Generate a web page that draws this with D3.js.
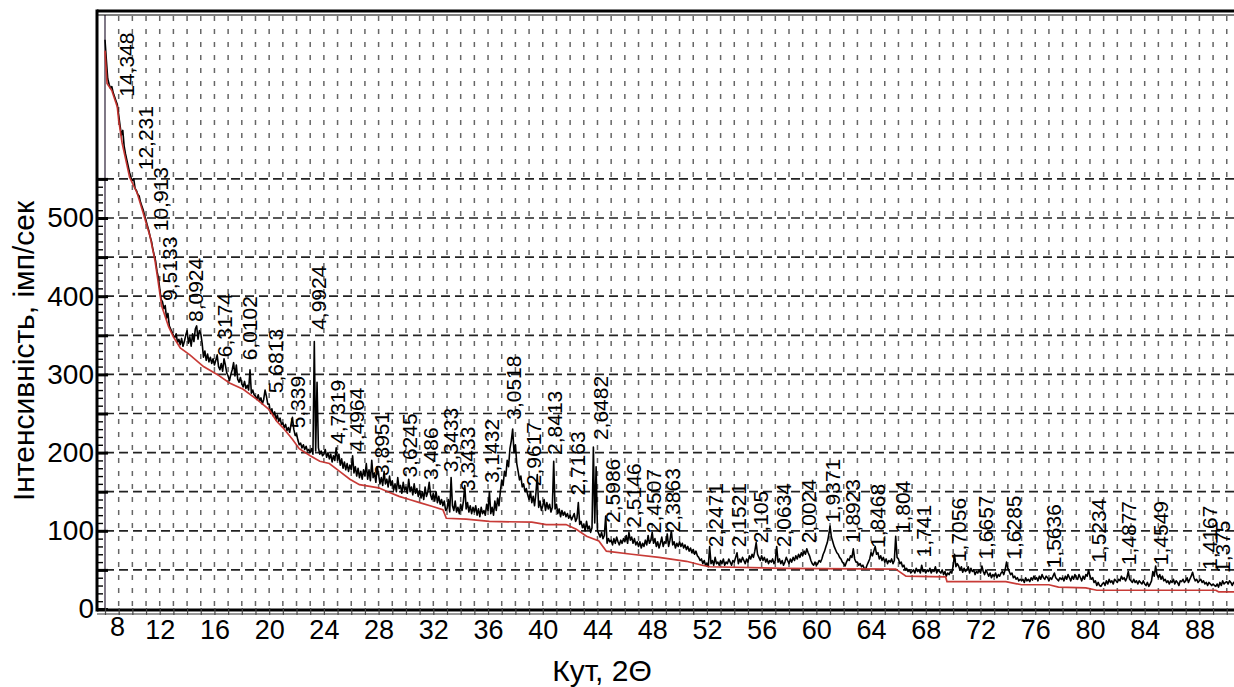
<!DOCTYPE html>
<html>
<head>
<meta charset="utf-8">
<script src="https://cdn.jsdelivr.net/npm/d3@7"></script>
<style>
  html, body { margin: 0; padding: 0; background: #fff; overflow: hidden; }
  text { font-family: "Liberation Sans", Arial, sans-serif; fill: #000; }
</style>
</head>
<body>
<svg id="chart" width="1234" height="687"></svg>
<script>
// XRD scan: constant step in 2θ
const thetaStart = 8.0;
const thetaStep = 0.1;

// Measured intensity, imp/s (one row per degree of 2θ)
const intensity = [
  728, 702, 678, 671, 666, 668, 660, 655, 650, 645,
  632, 618, 606, 612, 592, 582, 574, 566, 558, 552,
  548, 550, 538, 535, 530, 528, 520, 515, 510, 503,
  497, 490, 484, 476, 470, 460, 452, 445, 432, 424,
  410, 396, 393, 384, 388, 372, 378, 362, 358, 354,
  350, 347, 352, 341, 345, 338, 346, 336, 342, 350,
  356, 340, 348, 336, 352, 342, 358, 362, 345, 356,
  352, 340, 322, 330, 318, 326, 316, 322, 314, 320,
  312, 318, 325, 310, 306, 314, 304, 320, 312, 302,
  298, 292, 300, 306, 315, 298, 312, 294, 290, 296,
  288, 284, 291, 282, 286, 280, 306, 276, 280, 274,
  272, 268, 274, 266, 270, 262, 268, 280, 272, 262,
  262, 250, 256, 247, 252, 242, 248, 240, 244, 236,
  238, 232, 236, 228, 232, 226, 236, 245, 230, 222,
  224, 216, 210, 212, 206, 210, 204, 208, 202, 204,
  200, 205, 198, 342, 202, 290, 206, 198, 202, 196,
  198, 204, 194, 200, 192, 198, 188, 196, 190, 206,
  190, 198, 184, 192, 180, 188, 178, 186, 176, 184,
  178, 196, 174, 182, 170, 180, 168, 176, 166, 178,
  170, 186, 166, 178, 164, 190, 168, 174, 162, 182,
  172, 160, 168, 158, 176, 160, 166, 156, 170, 158,
  164, 152, 160, 150, 168, 154, 158, 148, 162, 152,
  156, 148, 166, 150, 156, 146, 160, 148, 154, 144,
  152, 142, 150, 140, 156, 144, 150, 162, 146, 140,
  148, 138, 150, 136, 144, 134, 140, 132, 138, 126,
  128, 140, 124, 168, 132, 126, 138, 124, 130, 122,
  134, 126, 138, 158, 128, 136, 124, 132, 122, 130,
  124, 132, 120, 128, 118, 130, 122, 126, 120, 134,
  126, 150, 122, 130, 120, 138, 126, 142, 132, 150,
  165, 158, 176, 170, 190, 182, 205, 215, 230, 200,
  210, 186, 176, 165, 170, 156, 160, 150, 154, 146,
  140, 150, 136, 144, 132, 148, 172, 130, 138, 126,
  132, 140, 126, 136, 128, 134, 124, 130, 189, 128,
  134, 122, 128, 118, 126, 120, 124, 118, 122, 116,
  120, 114, 118, 122, 112, 116, 136, 108, 112, 104,
  108, 100, 112, 102, 106, 98, 104, 207, 110, 182,
  100, 96, 92, 98, 90, 94, 119, 84, 90, 86,
  88, 82, 90, 84, 92, 86, 82, 88, 84, 90,
  86, 94, 84, 98, 88, 92, 84, 90, 82, 86,
  80, 86, 78, 84, 80, 88, 82, 94, 84, 88,
  98, 84, 90, 80, 86, 78, 84, 92, 80, 86,
  84, 96, 80, 88, 100, 82, 86, 78, 84, 80,
  86, 80, 84, 78, 82, 76, 80, 74, 78, 72,
  76, 70, 74, 68, 66, 62, 64, 58, 62, 56,
  58, 54, 80, 58, 62, 56, 66, 58, 60, 56,
  62, 58, 64, 56, 60, 58, 64, 60, 56, 62,
  60, 66, 72, 58, 64, 60, 66, 62, 58, 64,
  60, 68, 64, 70, 66, 74, 85, 70, 66, 62,
  68, 62, 66, 60, 64, 58, 62, 60, 64, 58,
  62, 80, 60, 64, 58, 62, 56, 60, 66, 62,
  58, 64, 60, 66, 62, 68, 64, 70, 66, 72,
  68, 74, 70, 77, 72, 68, 62, 58, 56, 60,
  56, 58, 62, 60, 64, 70, 74, 80, 85, 94,
  106, 92, 86, 80, 76, 72, 70, 66, 64, 60,
  58, 55, 60, 64, 62, 68, 66, 77, 64, 60,
  60, 56, 58, 54, 56, 52, 51, 56, 60, 64,
  72, 68, 74, 80, 70, 72, 64, 68, 62, 66,
  60, 64, 58, 62, 60, 64, 58, 62, 93, 66,
  64, 58, 60, 54, 56, 50, 52, 48, 50, 46,
  48, 50, 46, 52, 48, 50, 46, 56, 48, 50,
  46, 50, 48, 52, 46, 50, 48, 54, 46, 50,
  48, 46, 50, 44, 48, 42, 46, 44, 48, 46,
  55, 70, 54, 58, 55, 50, 54, 47, 52, 48,
  50, 54, 46, 52, 48, 50, 44, 48, 46, 50,
  46, 55, 48, 44, 50, 46, 42, 46, 40, 44,
  42, 46, 40, 44, 42, 46, 48, 44, 50, 60,
  52, 48, 44, 46, 40, 42, 38, 40, 36, 38,
  36, 38, 34, 40, 36, 38, 35, 40, 37, 42,
  38, 40, 36, 42, 38, 44, 40, 38, 42, 40,
  36, 40, 38, 42, 46, 40, 38, 36, 40, 38,
  40, 36, 42, 38, 44, 40, 36, 42, 38, 44,
  40, 38, 44, 40, 36, 42, 38, 44, 42, 50,
  42, 38, 40, 34, 36, 30, 34, 30, 29, 32,
  34, 30, 36, 32, 38, 34, 36, 32, 38, 36,
  34, 38, 36, 42, 38, 40, 36, 40, 48, 38,
  36, 34, 38, 34, 36, 32, 36, 34, 32, 36,
  32, 30, 34, 29, 32, 36, 48, 42, 55, 44,
  40, 44, 38, 42, 36, 38, 34, 36, 32, 36,
  34, 38, 32, 36, 34, 30, 36, 35, 38, 34,
  36, 40, 34, 38, 42, 47, 40, 36, 38, 34,
  36, 38, 34, 36, 32, 34, 30, 34, 32, 30,
  32, 30, 29, 32, 28, 34, 30, 36, 32, 34,
  35, 32, 36, 34, 30, 34, 32, 36, 34, 32
];

// Fitted background: vertices [2θ, intensity]
const background = [
  [8.0, 714], [8.15, 672], [8.5, 663], [8.9, 642], [9.0, 625], [9.25, 596],
  [9.8, 552], [10.35, 532], [10.8, 506], [11.3, 476], [11.65, 446], [11.9, 417],
  [12.15, 387], [12.65, 361], [13.0, 348], [13.5, 334], [14.2, 325], [15.2, 310],
  [16.2, 300], [17.1, 289], [18.1, 281], [19.1, 268], [20.0, 255], [20.55, 240],
  [21.0, 232], [21.7, 217], [22.2, 205], [23.0, 196], [23.7, 189], [24.4, 186],
  [25.15, 176], [25.9, 166], [26.6, 159], [28.0, 155], [28.8, 149], [29.5, 144],
  [30.25, 140], [31.0, 136], [31.95, 131], [32.7, 127], [32.95, 116], [34.4, 115],
  [36.1, 112], [39.2, 111], [40.25, 108], [41.7, 108], [42.45, 102], [43.2, 93],
  [44.1, 87], [44.65, 74], [46.5, 70], [48.5, 66], [50.5, 61], [51.65, 56],
  [52.2, 54], [57.5, 52], [65.8, 51], [66.55, 42], [69.45, 41], [69.55, 35],
  [73.85, 35], [75.0, 31], [77.0, 31], [77.7, 28], [79.7, 27], [80.5, 24],
  [89.2, 24], [89.4, 22], [91.0, 22]
];

// Interplanar spacings d (Å) marked above the reflections
const peakLabels = [
  "14,348", "12,231", "10,913", "9,5133", "8,0924", "6,3174", "6,0102", "5,6813",
  "5,339", "4,9924", "4,7319", "4,4964", "3,8951", "3,6245", "3,486", "3,3433",
  "3,3433", "3,1432", "3,0518", "2,9617", "2,8413", "2,7163", "2,6482", "2,5986",
  "2,5146", "2,4507", "2,3863", "2,2471", "2,1521", "2,105", "2,0634", "2,0024",
  "1,9371", "1,8923", "1,8468", "1,804", "1,741", "1,7056", "1,6657", "1,6285",
  "1,5636", "1,5234", "1,4877", "1,4549", "1,4167", "1,375"
];
const peakTheta = [
  9.54, 10.92, 12.02, 12.68, 14.58, 16.70, 18.53, 20.43,
  22.04, 23.57, 24.96, 26.35, 28.18, 30.22, 31.76, 33.22,
  34.46, 36.22, 37.82, 39.29, 40.89, 42.50, 44.18, 45.06,
  46.60, 48.06, 49.45, 52.59, 54.27, 55.88, 57.56, 59.39,
  61.14, 62.61, 64.43, 66.26, 67.80, 70.35, 72.33, 74.37,
  77.30, 80.59, 82.78, 85.12, 88.74, 89.72
];
const peakLevel = [
  655, 561, 483, 394, 367, 322, 318, 276,
  231, 357, 211, 201, 170, 168, 165, 175,
  151, 161, 242, 157, 197, 145, 216, 110,
  104, 97, 98, 79, 79, 84, 79, 84,
  110, 84, 78, 97, 66, 60, 63, 63,
  52, 59, 56, 56, 50, 46
];

const xTicks = [8, 12, 16, 20, 24, 28, 32, 36, 40, 44, 48, 52, 56, 60, 64, 68, 72, 76, 80, 84, 88];
const yTicks = [0, 100, 200, 300, 400, 500];
const yGrid = [50, 100, 150, 200, 250, 300, 350, 400, 450, 500, 550];

const xTitle = "Кут, 2Θ";
const yTitle = "Інтенсивність, імп/сек";

// ---- layout ----
const frameLeft = 97, frameTop = 11, frameBottom = 610;
const x = d3.scaleLinear().domain([8, 90]).range([105, 105 + 82 * 13.68]);
const y = d3.scaleLinear().domain([0, 500]).range([609, 218]);
const frameRight = x(94);

const svg = d3.select("#chart");

svg.append("defs").append("clipPath").attr("id", "plotClip")
  .append("rect")
  .attr("x", frameLeft + 1).attr("y", frameTop + 3)
  .attr("width", frameRight - frameLeft).attr("height", frameBottom - frameTop - 4);

// vertical dashed grid, one line per degree
const gridV = d3.range(9, 93, 1);
svg.append("g").selectAll("line").data(gridV).join("line")
  .attr("x1", d => x(d)).attr("x2", d => x(d))
  .attr("y1", frameTop + 5).attr("y2", frameBottom - 2)
  .attr("stroke", "#666").attr("stroke-width", 1.5)
  .attr("stroke-dasharray", "5,8");

// horizontal dashed grid
svg.append("g").selectAll("line").data(yGrid).join("line")
  .attr("x1", x(8)).attr("x2", frameRight)
  .attr("y1", d => y(d)).attr("y2", d => y(d))
  .attr("stroke", "#222").attr("stroke-width", 1.7)
  .attr("stroke-dasharray", "9,5");

// inner solid line at the start of the scan
svg.append("line")
  .attr("x1", x(8)).attr("x2", x(8))
  .attr("y1", frameTop + 4).attr("y2", frameBottom)
  .attr("stroke", "#3b3046").attr("stroke-width", 1.3);

// ---- data ----
const plot = svg.append("g").attr("clip-path", "url(#plotClip)");

const scanLine = d3.line()
  .x((d, i) => x(thetaStart + i * thetaStep))
  .y(d => y(d));
plot.append("path").datum(intensity)
  .attr("d", scanLine)
  .attr("fill", "none").attr("stroke", "#000").attr("stroke-width", 1.6)
  .attr("stroke-linejoin", "round");

const bgLine = d3.line().x(d => x(d[0])).y(d => y(d[1]));
plot.append("path").datum(background)
  .attr("d", bgLine)
  .attr("fill", "none").attr("stroke", "#c5302c").attr("stroke-width", 1.7)
  .attr("opacity", 0.95);

// ---- frame ----
const frame = svg.append("g").attr("stroke", "#000").attr("fill", "none");
frame.append("line").attr("x1", frameLeft).attr("x2", frameRight)
  .attr("y1", frameTop).attr("y2", frameTop).attr("stroke-width", 3);
frame.append("line").attr("x1", frameLeft).attr("x2", frameRight)
  .attr("y1", frameTop + 4).attr("y2", frameTop + 4).attr("stroke-width", 1.2);
frame.append("line").attr("x1", frameLeft).attr("x2", frameLeft)
  .attr("y1", frameTop - 1.5).attr("y2", frameBottom + 1.5).attr("stroke-width", 3);
frame.append("line").attr("x1", frameLeft).attr("x2", frameRight)
  .attr("y1", frameBottom).attr("y2", frameBottom).attr("stroke-width", 3);
frame.append("line").attr("x1", frameLeft).attr("x2", frameRight)
  .attr("y1", frameBottom + 4).attr("y2", frameBottom + 4).attr("stroke-width", 1.2)
  .attr("stroke", "#333");

// ---- y axis: minor and major ticks inside the frame, labels outside ----
const yMinor = svg.append("g").attr("transform", `translate(${frameLeft},0)`)
  .call(d3.axisRight(y).tickValues(d3.range(0, 551, 10)).tickSize(6).tickFormat(""));
yMinor.select(".domain").remove();
yMinor.selectAll("line").attr("stroke", "#000").attr("stroke-width", 1.4);

const yMajor = svg.append("g").attr("transform", `translate(${frameLeft},0)`)
  .call(d3.axisRight(y).tickValues(d3.range(0, 551, 50)).tickSize(11).tickFormat(""));
yMajor.select(".domain").remove();
yMajor.selectAll("line").attr("stroke", "#000").attr("stroke-width", 3);

const yLabels = svg.append("g").attr("transform", `translate(${frameLeft},0)`)
  .call(d3.axisLeft(y).tickValues(yTicks).tickSize(0).tickPadding(3));
yLabels.select(".domain").remove();
yLabels.selectAll("text")
  .style("font-family", "'Liberation Sans', Arial, sans-serif")
  .attr("font-size", 28).attr("fill", "#000");

// ---- x axis: degree ticks and labels ----
const xMinor = svg.append("g").attr("transform", `translate(0,${frameBottom - 2})`)
  .call(d3.axisBottom(x).tickValues(d3.range(8, 93, 1)).tickSize(7).tickFormat(""));
xMinor.select(".domain").remove();
xMinor.selectAll("line").attr("stroke", "#444").attr("stroke-width", 1.2);

const xLabels = svg.append("g").attr("transform", `translate(0,${frameBottom})`)
  .call(d3.axisBottom(x).tickValues(xTicks).tickSize(0).tickPadding(10));
xLabels.select(".domain").remove();
xLabels.selectAll("text")
  .style("font-family", "'Liberation Sans', Arial, sans-serif")
  .attr("font-size", 27).attr("fill", "#000")
  .attr("dx", d => d === 8 ? 12 : 0)
  .attr("y", d => d === 8 ? 7 : 10);

// ---- peak d-spacing labels ----
svg.append("g").selectAll("text").data(peakLabels).join("text")
  .attr("transform", (d, i) => `translate(${x(peakTheta[i])},${y(peakLevel[i])}) rotate(-90)`)
  .attr("dy", "0.36em")
  .attr("font-size", 21)
  .text(d => d);

// ---- axis titles ----
svg.append("text")
  .attr("transform", "translate(23,351) rotate(-90)")
  .attr("text-anchor", "middle").attr("dy", "0.35em")
  .attr("font-size", 30)
  .text(yTitle);

svg.append("text")
  .attr("x", 602).attr("y", 681)
  .attr("text-anchor", "middle")
  .attr("font-size", 30)
  .text(xTitle);
</script>
</body>
</html>
